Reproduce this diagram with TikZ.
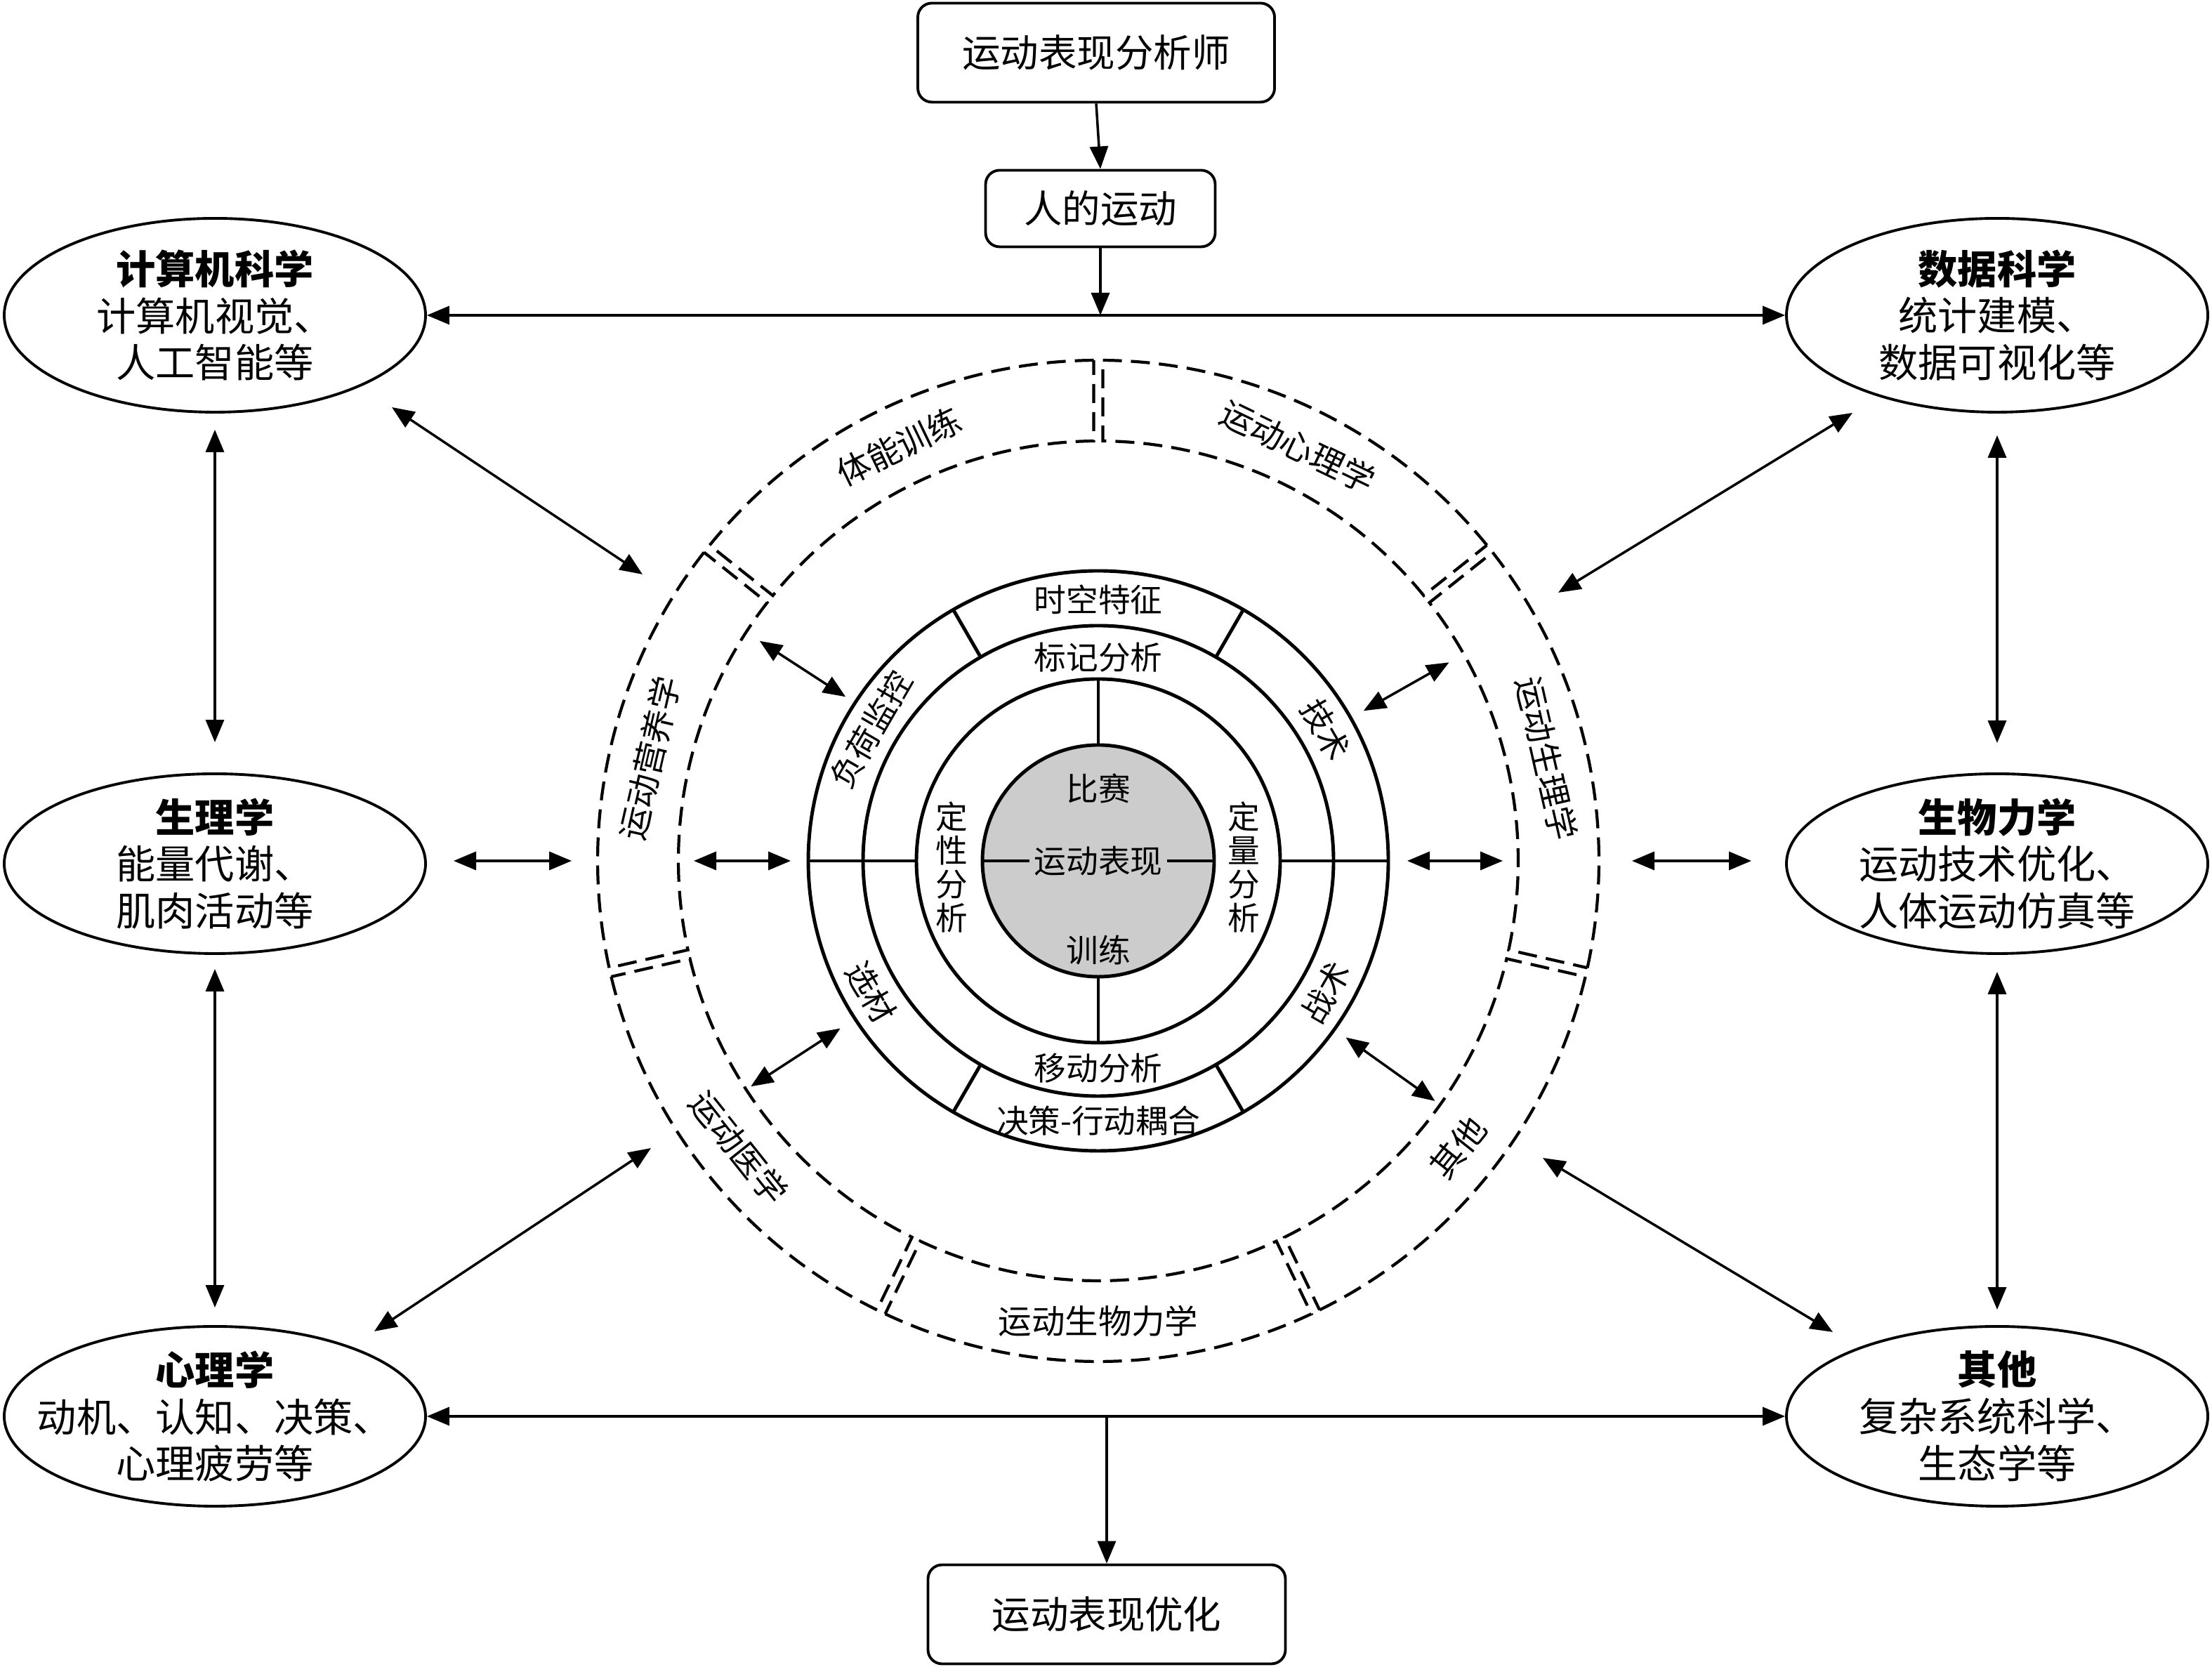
\documentclass[tikz,border=0pt]{standalone}
\usepackage{fontspec}
\setmainfont{Noto Sans CJK SC}
\usetikzlibrary{arrows.meta,shapes.geometric,calc}
\tikzset{
  field/.style={ellipse, draw, line width=1.1pt, minimum width=6cm, minimum height=2.56cm, inner sep=0pt},
  fieldtext/.style={align=center, inner sep=0pt, font=\fontsize{16pt}{19pt}\selectfont},
  box/.style={draw, rounded corners=0.2cm, line width=1.1pt, inner sep=0pt, font=\fontsize{15.5pt}{19pt}\selectfont},
  flow/.style={line width=1pt, -{Triangle[length=0.32cm,width=0.26cm]}},
  link/.style={line width=1pt, {Triangle[length=0.32cm,width=0.26cm]}-{Triangle[length=0.32cm,width=0.26cm]}},
  ring/.style={line width=1.4pt},
  sector/.style={line width=1.2pt, dash pattern=on 0.27cm off 0.13cm},
  inlabel/.style={inner sep=0pt, font=\fontsize{13pt}{13.7pt}\selectfont},
  outlabel/.style={inner sep=0pt, font=\fontsize{13.5pt}{16pt}\selectfont},
}
\begin{document}
\begin{tikzpicture}
\useasboundingbox (0,0) rectangle (31.5,23.74);
\coordinate (C) at (15.64,11.48);
% boxes and fields
\node[box, minimum width=5.08cm, minimum height=1.41cm] (analyst) at (15.61,22.99) {运动表现分析师};
\node[box, minimum width=3.27cm, minimum height=1.09cm] (motion) at (15.67,20.77) {人的运动};
\node[box, minimum width=5.09cm, minimum height=1.41cm] (optim) at (15.76,0.75) {运动表现优化};
\node[field, minimum height=2.76cm] (cs) at (3.06,19.25) {};
\node[fieldtext] (csT) at (cs) {\textbf{计算机科学}\\计算机视觉、\\人工智能等};
\node[field, minimum height=2.76cm] (ds) at (28.44,19.25) {};
\node[fieldtext] (dsT) at (ds) {\textbf{数据科学}\\统计建模、\\数据可视化等};
\node[field] (phys) at (3.06,11.44) {};
\node[fieldtext] (physT) at (phys) {\textbf{生理学}\\能量代谢、\\肌肉活动等};
\node[field] (bio) at (28.44,11.44) {};
\node[fieldtext] (bioT) at (bio) {\textbf{生物力学}\\运动技术优化、\\人体运动仿真等};
\node[field] (psy) at (3.06,3.57) {};
\node[fieldtext] (psyT) at (psy) {\textbf{心理学}\\动机、认知、决策、\\心理疲劳等};
\node[field] (oth) at (28.44,3.57) {};
\node[fieldtext] (othT) at (oth) {\textbf{其他}\\复杂系统科学、\\生态学等};
% dashed outer ring
\draw[sector] ($(C)+(90.52:7.13)$) arc[start angle=90.52, end angle=140.91, radius=7.13] -- ($(C)+(140.81:5.98)$) arc[start angle=140.81, end angle=90.62, radius=5.98] -- cycle;
\draw[sector] ($(C)+(141.95:7.13)$) arc[start angle=141.95, end angle=192.34, radius=7.13] -- ($(C)+(192.24:5.98)$) arc[start angle=192.24, end angle=142.05, radius=5.98] -- cycle;
\draw[sector] ($(C)+(193.38:7.13)$) arc[start angle=193.38, end angle=243.77, radius=7.13] -- ($(C)+(243.67:5.98)$) arc[start angle=243.67, end angle=193.48, radius=5.98] -- cycle;
\draw[sector] ($(C)+(244.81:7.13)$) arc[start angle=244.81, end angle=295.19, radius=7.13] -- ($(C)+(295.09:5.98)$) arc[start angle=295.09, end angle=244.91, radius=5.98] -- cycle;
\draw[sector] ($(C)+(296.23:7.13)$) arc[start angle=296.23, end angle=346.62, radius=7.13] -- ($(C)+(346.52:5.98)$) arc[start angle=346.52, end angle=296.33, radius=5.98] -- cycle;
\draw[sector] ($(C)+(347.66:7.13)$) arc[start angle=347.66, end angle=398.05, radius=7.13] -- ($(C)+(397.95:5.98)$) arc[start angle=397.95, end angle=347.76, radius=5.98] -- cycle;
\draw[sector] ($(C)+(39.09:7.13)$) arc[start angle=39.09, end angle=89.48, radius=7.13] -- ($(C)+(89.38:5.98)$) arc[start angle=89.38, end angle=39.19, radius=5.98] -- cycle;
\node[outlabel, rotate=25.71] (sFit) at ($(C)+(115.71:6.55)$) {体能训练};
\node[outlabel, rotate=77.14] (sNut) at ($(C)+(167.14:6.55)$) {运动营养学};
\node[outlabel, rotate=-51.43] (sMed) at ($(C)+(218.57:6.55)$) {运动医学};
\node[outlabel] (sBio) at ($(C)+(270:6.55)$) {运动生物力学};
\node[outlabel, rotate=51.43] (sOth) at ($(C)+(321.43:6.55)$) {其他};
\node[outlabel, rotate=-77.14] (sPhy) at ($(C)+(12.86:6.55)$) {运动生理学};
\node[outlabel, rotate=-25.71] (sPsy) at ($(C)+(64.29:6.55)$) {运动心理学};
% solid rings
\draw[ring] (C) circle[radius=4.13];
\draw[ring] (C) circle[radius=3.35];
\draw[ring] (C) circle[radius=2.59];
\draw[ring, fill=black!20] (C) circle[radius=1.65];
\draw[ring] ($(C)+(180:1.65)$) -- ($(C)+(0:1.65)$);
\draw[ring] ($(C)+(90:1.65)$) -- ($(C)+(90:2.59)$);
\draw[ring] ($(C)+(270:1.65)$) -- ($(C)+(270:2.59)$);
\draw[ring] ($(C)+(180:2.59)$) -- ($(C)+(180:4.13)$);
\draw[ring] ($(C)+(0:2.59)$) -- ($(C)+(0:4.13)$);
\draw[ring] ($(C)+(60:3.35)$) -- ($(C)+(60:4.13)$);
\draw[ring] ($(C)+(120:3.35)$) -- ($(C)+(120:4.13)$);
\draw[ring] ($(C)+(240:3.35)$) -- ($(C)+(240:4.13)$);
\draw[ring] ($(C)+(300:3.35)$) -- ($(C)+(300:4.13)$);
\node[inlabel, fill=black!20, inner xsep=2pt] (perf) at (C) {运动表现};
\node[inlabel] (match) at ($(C)+(0,1.03)$) {比赛};
\node[inlabel] (train) at ($(C)+(0,-1.27)$) {训练};
\node[inlabel, align=center] (qual) at ($(C)+(-2.09,-0.09)$) {定\\性\\分\\析};
\node[inlabel, align=center] (quan) at ($(C)+(2.07,-0.09)$) {定\\量\\分\\析};
\node[inlabel] (mark) at ($(C)+(0,2.90)$) {标记分析};
\node[inlabel] (move) at ($(C)+(0,-2.95)$) {移动分析};
\node[inlabel] (space) at ($(C)+(0,3.72)$) {时空特征};
\node[inlabel] (decide) at ($(C)+(0,-3.70)$) {决策-行动耦合};
\node[inlabel, rotate=60] (load) at ($(C)+(150:3.74)$) {负荷监控};
\node[inlabel, rotate=-60] (tech) at ($(C)+(30:3.74)$) {技术};
\node[inlabel, rotate=-60] (select) at ($(C)+(210:3.74)$) {选材};
\node[inlabel, rotate=60] (tactic) at ($(C)+(330:3.74)$) {战术};
% arrow ends
\coordinate (topJ) at (motion.south |- cs.east);
\coordinate (botJ) at (optim.north |- psy.east);
\coordinate (iL1) at ($(C)+(180:4.38)$);
\coordinate (iL2) at ($(C)+(180:5.76)$);
\coordinate (iR1) at ($(C)+(0:4.40)$);
\coordinate (iR2) at ($(C)+(0:5.76)$);
\coordinate (iUL1) at ($(C)+(147:4.29)$);
\coordinate (iUL2) at ($(C)+(147:5.75)$);
\coordinate (iUR1) at ($(C)+(29.5:4.34)$);
\coordinate (iUR2) at ($(C)+(29.5:5.74)$);
\coordinate (iLL1) at ($(C)+(213:4.38)$);
\coordinate (iLL2) at ($(C)+(213:5.90)$);
\coordinate (iLR1) at ($(C)+(324.5:4.33)$);
\coordinate (iLR2) at ($(C)+(324.5:5.89)$);
\coordinate (oL1) at (6.46,11.48);
\coordinate (oL2) at (8.14,11.48);
\coordinate (oR1) at (23.24,11.48);
\coordinate (oR2) at (24.94,11.48);
\coordinate (csA) at (5.58,17.94);
\coordinate (csB) at (9.15,15.56);
\coordinate (dsA) at (26.38,17.86);
\coordinate (dsB) at (22.19,15.30);
\coordinate (psyA) at (5.33,4.78);
\coordinate (psyB) at (9.27,7.39);
\coordinate (othA) at (26.10,4.77);
\coordinate (othB) at (21.97,7.25);
% connectors
\draw[flow] (analyst.south) -- (motion.north);
\draw[flow] (motion.south) -- (topJ);
\draw[link] (cs.east) -- (ds.west);
\draw[link] (psy.east) -- (oth.west);
\draw[flow] (botJ) -- (optim.north);
\draw[link, shorten <=0.23cm, shorten >=0.43cm] (cs.south) -- (phys.north);
\draw[link, shorten <=0.2cm, shorten >=0.25cm] (phys.south) -- (psy.north);
\draw[link, shorten <=0.31cm, shorten >=0.42cm] (ds.south) -- (bio.north);
\draw[link, shorten <=0.24cm, shorten >=0.22cm] (bio.south) -- (oth.north);
\draw[link] (oL1) -- (oL2);
\draw[link] (oR1) -- (oR2);
\draw[link] (iL1) -- (iL2);
\draw[link] (iR1) -- (iR2);
\draw[link] (iUL1) -- (iUL2);
\draw[link] (iUR1) -- (iUR2);
\draw[link] (iLL1) -- (iLL2);
\draw[link] (iLR1) -- (iLR2);
\draw[link] (csA) -- (csB);
\draw[link] (dsA) -- (dsB);
\draw[link] (psyA) -- (psyB);
\draw[link] (othA) -- (othB);
\end{tikzpicture}
\end{document}
